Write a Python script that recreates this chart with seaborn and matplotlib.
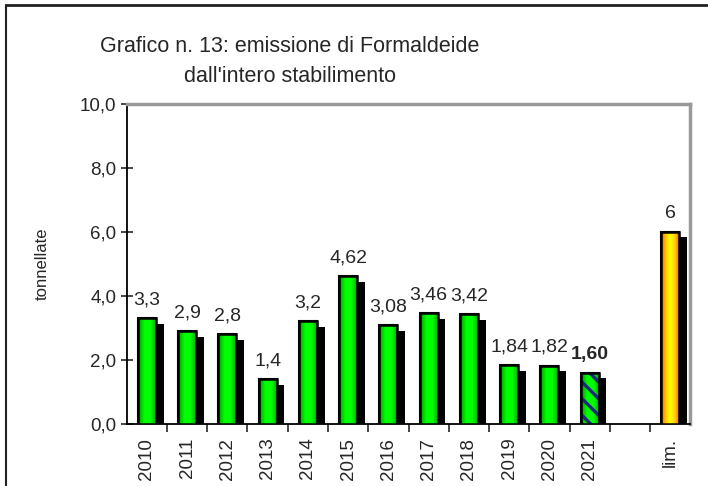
import numpy as np
import pandas as pd
import seaborn as sns
import matplotlib.pyplot as plt
import matplotlib.patches as mpatches
import matplotlib.patheffects as pe
from matplotlib.colors import LinearSegmentedColormap
from matplotlib.ticker import FixedLocator, FuncFormatter

# Data
categories = ['2010', '2011', '2012', '2013', '2014', '2015', '2016', '2017',
              '2018', '2019', '2020', '2021', '', 'lim.']
values = [3.3, 2.9, 2.8, 1.4, 3.2, 4.62, 3.08, 3.46, 3.42, 1.84, 1.82, 1.60, np.nan, 6]
labels = ['3,3', '2,9', '2,8', '1,4', '3,2', '4,62', '3,08', '3,46', '3,42',
          '1,84', '1,82', '1,60', '', '6']

sns.set_style('ticks')
plt.rcParams['font.family'] = ['Liberation Sans', 'DejaVu Sans']
plt.rcParams['hatch.linewidth'] = 2.4

df = pd.DataFrame({'anno': categories, 'valore': values})

fig = plt.figure(figsize=(7.08, 4.86), dpi=100)
ax = fig.add_axes([0.179, 0.128, 0.796, 0.658])

sns.barplot(data=df, x='anno', y='valore', order=categories, color='#00dd00',
            width=0.45, edgecolor='black', linewidth=1.5, ax=ax, zorder=3)

# horizontal gradients: darker edges, bright centre
green = LinearSegmentedColormap.from_list('g', ['#009900', '#00ff00', '#00ff00', '#00a000'])
gold = LinearSegmentedColormap.from_list('o', ['#ff5500', '#ffcc00', '#ffff00', '#ffcc00', '#ff5500'])
grad = np.linspace(0, 1, 64).reshape(1, -1)

for p in list(ax.patches):
    h = p.get_height()
    if not np.isfinite(h) or h <= 0:
        continue
    i = int(round(p.get_x() + p.get_width() / 2))
    x0, w = p.get_x(), p.get_width()
    p.set_path_effects([pe.SimplePatchShadow(offset=(5.5, -4), shadow_rgbFace='black', alpha=1),
                        pe.Normal()])
    cmap = gold if categories[i] == 'lim.' else green
    im = ax.imshow(grad, cmap=cmap, aspect='auto', extent=(x0, x0 + w, 0, h),
                   zorder=4, interpolation='bilinear')
    im.set_clip_path(p)
    if categories[i] == '2021':
        ax.add_patch(mpatches.Rectangle((x0, 0), w, h, facecolor='none', edgecolor='#1a2a7a',
                                        hatch='\\\\', linewidth=1, zorder=5))
    ax.add_patch(mpatches.Rectangle((x0, 0), w, h, facecolor='none', edgecolor='black',
                                    linewidth=1.8, zorder=6))
    ax.text(i, h + 0.3, labels[i], ha='center', va='bottom', fontsize=14,
            fontweight='bold' if categories[i] == '2021' else 'normal', zorder=7)

ax.set_xlim(-0.5, len(categories) - 0.5)
ax.set_ylim(0, 10)
ax.set_yticks(np.arange(0, 10.1, 2))
ax.yaxis.set_major_formatter(FuncFormatter(lambda v, _: f'{v:.1f}'.replace('.', ',')))
ax.tick_params(axis='y', labelsize=13.5, direction='inout', length=8, width=1.2)
ax.set_xticks(range(len(categories)))
ax.set_xticklabels(categories, rotation=90, fontsize=13.5)
ax.tick_params(axis='x', which='major', length=0, pad=10)
ax.xaxis.set_minor_locator(FixedLocator(np.arange(0.5, len(categories) - 0.5, 1)))
ax.tick_params(axis='x', which='minor', length=6, width=1.2, direction='out')
ax.set_xlabel('')
ax.set_ylabel('tonnellate', fontsize=12, labelpad=22)

for s in ['top', 'right']:
    ax.spines[s].set_color('#999999')
    ax.spines[s].set_linewidth(2.5)
for s in ['left', 'bottom']:
    ax.spines[s].set_color('black')
    ax.spines[s].set_linewidth(1.3)

fig.text(290 / 708, 1 - 46 / 486, 'Grafico n. 13: emissione di Formaldeide',
         ha='center', va='center', fontsize=15.5)
fig.text(290 / 708, 1 - 77 / 486, "dall'intero stabilimento",
         ha='center', va='center', fontsize=15.5)

# outer frame of the chart
fig.add_artist(plt.Line2D([6 / 708, 6 / 708], [0, 1 - 5 / 486], transform=fig.transFigure,
                          color='#222222', linewidth=1.5))
fig.add_artist(plt.Line2D([6 / 708, 1], [1 - 5 / 486, 1 - 5 / 486], transform=fig.transFigure,
                          color='#222222', linewidth=2))

fig.savefig('out.png', dpi=100)
